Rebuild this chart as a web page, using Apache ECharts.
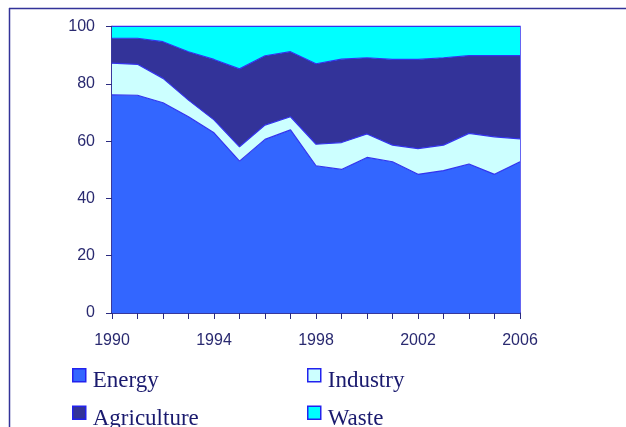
<!DOCTYPE html>
<html>
<head>
<meta charset="utf-8">
<script src="https://cdn.jsdelivr.net/npm/echarts@6/dist/echarts.min.js"></script>
<style>
  html, body { margin: 0; padding: 0; background: #fff; }
  #chart { width: 626px; height: 427px; }
</style>
</head>
<body>
<div id="chart"></div>
<script>
// data (percent shares)
const years = ['1990', '1991', '1992', '1993', '1994', '1995', '1996', '1997', '1998',
  '1999', '2000', '2001', '2002', '2003', '2004', '2005', '2006'];
const energy = [76.1, 76.0, 73.4, 68.5, 62.9, 53.0, 60.6, 63.9, 51.4, 50.1, 54.3, 52.8, 48.4, 49.7, 52.0, 48.4, 52.8];
const industry = [11.1, 10.8, 8.5, 5.8, 4.5, 5.0, 5.0, 4.6, 7.5, 9.4, 8.2, 5.8, 9.0, 8.9, 10.7, 13.1, 8.0];
const agriculture = [8.7, 9.1, 12.8, 16.9, 21.1, 27.2, 24.2, 22.7, 28.1, 29.1, 26.6, 29.9, 31.1, 30.5, 27.1, 28.3, 29.0];
const waste = [4.1, 4.1, 5.3, 8.8, 11.5, 14.8, 10.2, 8.8, 13.0, 11.4, 10.9, 11.5, 11.5, 10.9, 10.2, 10.2, 10.2];

const navy = '#2b2b80';
const edge = '#3333ee';

const chart = echarts.init(document.getElementById('chart'));

function area(name, data, color) {
  return {
    name: name,
    type: 'line',
    stack: 'total',
    data: data,
    symbol: 'none',
    itemStyle: { color: color },
    lineStyle: { color: edge, width: 1.2 },
    areaStyle: { color: color, opacity: 1 }
  };
}

// one legend per entry so they sit in a 2x2 grid like the original
function legendItem(name, left, top) {
  return {
    data: [name],
    left: left, top: top,
    padding: 0,
    itemWidth: 13, itemHeight: 13,
    icon: 'rect',
    itemStyle: { borderColor: '#2222ee', borderWidth: 1.5 },
    formatter: '{t|{name}}',
    textStyle: {
      rich: {
        t: {
          fontFamily: 'Liberation Serif',
          fontSize: 23,
          color: '#1a1a6e',
          padding: [12, 0, 0, 2]
        }
      }
    }
  };
}

chart.setOption({
  animation: false,
  grid: {
    left: 112, right: 106, top: 26.5, bottom: 114,
    show: true, borderColor: edge, borderWidth: 1.5, backgroundColor: 'transparent'
  },
  xAxis: {
    type: 'category',
    data: years,
    boundaryGap: false,
    axisLine: { lineStyle: { color: navy, width: 1.5 } },
    axisTick: { interval: 0, length: 6, lineStyle: { color: navy } },
    axisLabel: { interval: 3, margin: 20, fontFamily: 'Liberation Sans', fontSize: 16, color: '#2a2a70' },
    splitLine: { show: false }
  },
  yAxis: {
    type: 'value',
    min: 0, max: 100, interval: 20,
    axisLine: { show: true, lineStyle: { color: navy, width: 1.5 } },
    axisTick: { show: true, length: 6, lineStyle: { color: navy } },
    axisLabel: { margin: 17, fontFamily: 'Liberation Sans', fontSize: 16, color: '#2a2a70' },
    splitLine: { show: false }
  },
  legend: [
    legendItem('Energy', 72, 368),
    legendItem('Industry', 307, 368),
    legendItem('Agriculture', 72, 405.5),
    legendItem('Waste', 307, 405.5)
  ],
  graphic: [
    { type: 'line', shape: { x1: 9, y1: 8.5, x2: 626, y2: 8.5 }, style: { stroke: '#333399', lineWidth: 1.5 } },
    { type: 'line', shape: { x1: 9.5, y1: 8, x2: 9.5, y2: 427 }, style: { stroke: '#333399', lineWidth: 1.5 } }
  ],
  series: [
    area('Energy', energy, '#3366ff'),
    area('Industry', industry, '#ccffff'),
    area('Agriculture', agriculture, '#333399'),
    area('Waste', waste, '#00ffff')
  ]
});
</script>
</body>
</html>
